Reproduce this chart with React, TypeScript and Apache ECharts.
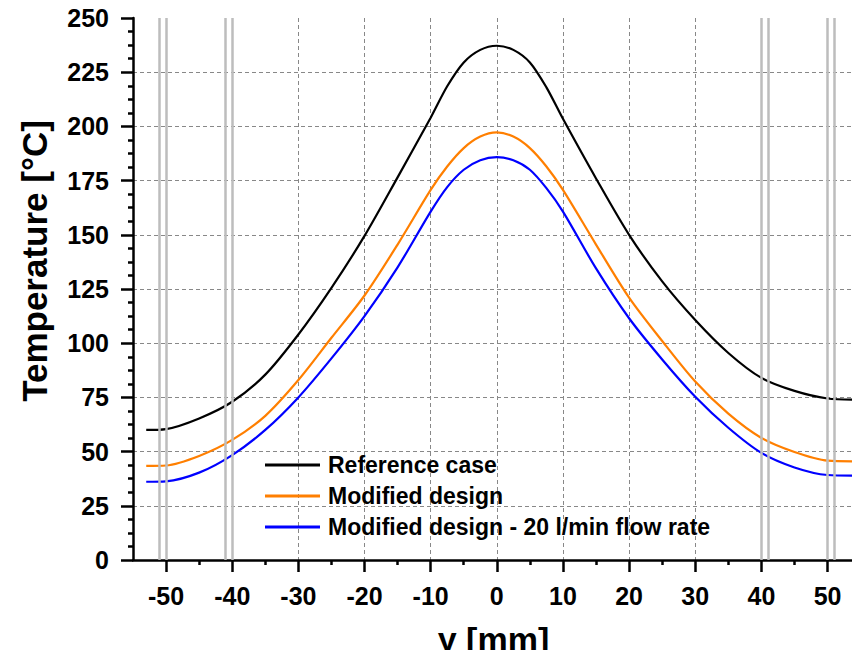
import React, { useEffect, useRef } from "react";
import * as echarts from "echarts";

// x positions (mm)
const positions = [-53, -50, -45, -40, -35, -30, -25, -20, -15, -10, -7.5, -5, -2.5, 0, 2.5, 5, 7.5, 10, 15, 20, 25, 30, 35, 40, 45, 50, 54];
// Temperatures (°C)
const referenceCase = [60.0, 60.4, 65.3, 73.0, 85.5, 104.0, 125.5, 149.5, 176.5, 204.0, 218.5, 229.5, 235.3, 237.2, 235.3, 229.5, 218.0, 203.5, 176.0, 150.0, 128.5, 110.7, 95.5, 84.0, 78.0, 74.5, 74.0];
const modifiedDesign = [43.4, 43.6, 48.0, 55.4, 66.5, 83.0, 102.5, 122.0, 145.5, 170.7, 181.5, 190.0, 195.3, 197.2, 195.3, 190.0, 181.5, 170.7, 145.5, 121.0, 101.0, 82.3, 67.5, 56.3, 49.8, 45.8, 45.5];
const modifiedFlow = [36.1, 36.3, 40.3, 48.4, 60.0, 75.0, 93.0, 112.5, 135.0, 160.7, 172.0, 180.0, 184.4, 185.8, 184.4, 180.0, 171.5, 160.7, 134.5, 111.5, 92.5, 75.3, 61.0, 49.4, 42.7, 39.2, 38.9];
// boundary (double gray) lines
const boundaryPositions = [-51, -50, -41, -40, 40, 41, 50, 51];
// major x ticks
const xMajorTicks = [-50, -40, -30, -20, -10, 0, 10, 20, 30, 40, 50];
const seriesNames = ["Reference case", "Modified design", "Modified design - 20 l/min flow rate"];
const seriesColors = ["#000000", "#ff7f00", "#0000ff"];

const FONT = 'Arial, "Liberation Sans", Helvetica, sans-serif';

export default function App() {
  const ref = useRef<HTMLDivElement>(null);
  useEffect(() => {
    document.body.style.margin = "0";
    if (!ref.current) return;
    const chart = echarts.init(ref.current, null, { renderer: "svg" });
    const values = [referenceCase, modifiedDesign, modifiedFlow];
    const tickStyle = { color: "#000", width: 2.5 };
    const gridStyle = { color: "#888", type: [4, 3] as any, width: 1 };
    chart.setOption({
      animation: false,
      backgroundColor: "#fff",
      grid: { left: 133, top: 18, width: 721, height: 542, containLabel: false, outerBoundsMode: "none" },
      legend: {
        data: seriesNames,
        orient: "vertical",
        left: 265,
        top: 453,
        padding: 0,
        itemWidth: 55,
        itemHeight: 3,
        itemGap: 7,
        icon: "rect",
        textStyle: {
          fontSize: 23,
          fontWeight: "bold",
          color: "#000",
          fontFamily: FONT,
          lineHeight: 24,
          padding: [0, 0, 0, 3],
        },
      },
      xAxis: {
        type: "value",
        min: -55,
        max: 54,
        splitNumber: 11,
        axisLine: { onZero: false, lineStyle: tickStyle },
        axisTick: { show: true, length: 12, lineStyle: tickStyle, customValues: xMajorTicks },
        minorTick: { show: true, splitNumber: 2, length: 5, lineStyle: tickStyle },
        axisLabel: {
          customValues: xMajorTicks,
          margin: 23,
          fontSize: 25,
          fontWeight: "bold",
          color: "#000",
          fontFamily: FONT,
        },
        splitLine: { show: true, showMinLine: false, showMaxLine: false, lineStyle: gridStyle },
        name: "y [mm]",
        nameLocation: "middle",
        nameGap: 62,
        nameTextStyle: { fontSize: 34, fontWeight: "bold", color: "#000", fontFamily: FONT },
      },
      yAxis: {
        type: "value",
        min: 0,
        max: 250,
        interval: 25,
        axisLine: { show: true, onZero: false, lineStyle: tickStyle },
        axisTick: { show: true, length: 12, lineStyle: tickStyle },
        minorTick: { show: true, splitNumber: 4, length: 5, lineStyle: tickStyle },
        axisLabel: { margin: 24, fontSize: 25, fontWeight: "bold", color: "#000", fontFamily: FONT },
        splitLine: { show: true, showMinLine: false, showMaxLine: false, lineStyle: gridStyle },
      },
      graphic: [
        {
          type: "text",
          x: 34,
          y: 261,
          rotation: Math.PI / 2,
          style: {
            text: "Temperature [°C]",
            fontSize: 35,
            fontWeight: "bold",
            fontFamily: FONT,
            fill: "#000",
            align: "center",
            verticalAlign: "middle",
          },
        },
      ],
      series: seriesNames.map((name, s) => ({
        name,
        type: "line",
        data: positions.map((x, i) => [x, values[s][i]]),
        showSymbol: false,
        smooth: 0.3,
        clip: true,
        lineStyle: { color: seriesColors[s], width: 2.2 },
        itemStyle: { color: seriesColors[s] },
        emphasis: { disabled: true },
        markLine:
          s === 2
            ? {
                silent: true,
                symbol: ["none", "none"],
                label: { show: false },
                emphasis: { disabled: true },
                lineStyle: { color: "#bdbdbd", width: 2.5, type: "solid" },
                data: boundaryPositions.map((v) => ({ xAxis: v })),
              }
            : undefined,
      })),
    });
    return () => chart.dispose();
  }, []);
  return <div ref={ref} style={{ width: 852, height: 650 }} />;
}
